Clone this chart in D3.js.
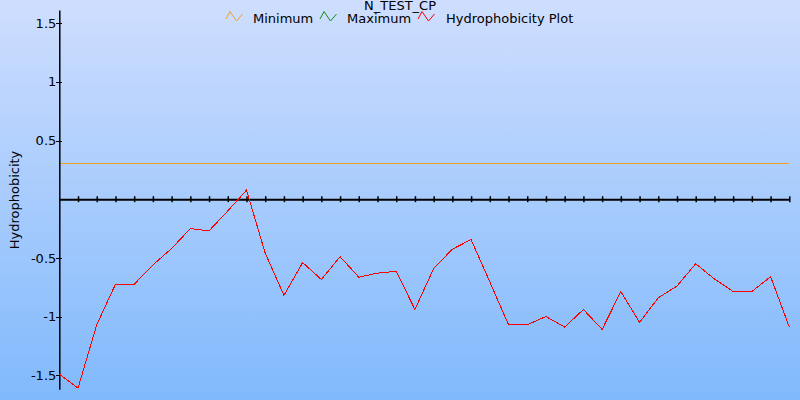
<!DOCTYPE html>
<html>
<head>
<meta charset="utf-8">
<script src="https://cdn.jsdelivr.net/npm/d3@7"></script>
<style>
html,body{margin:0;padding:0;}
svg{display:block;font-family:"DejaVu Sans",sans-serif;}
</style>
</head>
<body>
<script>
const title = "N_TEST_CP";
const yTitle = "Hydrophobicity";
const seriesNames = ["Minimum", "Maximum", "Hydrophobicity Plot"];
const seriesColors = ["#f0a020", "#109010", "#ff0000"];
const yTicks = [-1.5, -1, -0.5, 0.5, 1, 1.5];
const yTickLabels = ["-1.5", "-1", "-0.5", "0.5", "1", "1.5"];
const minimumValue = 0.307;
const hydro = [-1.49, -1.61, -1.07, -0.725, -0.725, -0.56, -0.42, -0.25, -0.27, -0.10,
  0.077, -0.46, -0.82, -0.54, -0.685, -0.49, -0.665, -0.63, -0.615, -0.94,
  -0.59, -0.426, -0.344, -0.705, -1.07, -1.07, -1.0, -1.09, -0.94, -1.11,
  -0.787, -1.05, -0.84, -0.74, -0.55, -0.68, -0.787, -0.787, -0.66, -1.09];

const W = 800, H = 400;
const svg = d3.select("body").append("svg").attr("width", W).attr("height", H);
const defs = svg.append("defs");
const grad = defs.append("linearGradient").attr("id","bg").attr("x1",0).attr("y1",0).attr("x2",0).attr("y2",1);
grad.append("stop").attr("offset","0%").attr("stop-color","#cfdefe");
grad.append("stop").attr("offset","100%").attr("stop-color","#80b9fc");
svg.append("rect").attr("width",W).attr("height",H).attr("fill","url(#bg)");

const x = d3.scaleLinear().domain([0, hydro.length - 1]).range([59.3, 789.3]);
const y = d3.scaleLinear().domain([-1.62, 1.612]).range([389.3, 10]);

// minimum line
svg.append("line")
  .attr("x1", x(0)).attr("x2", x(hydro.length - 1))
  .attr("y1", y(minimumValue)).attr("y2", y(minimumValue))
  .attr("stroke", seriesColors[0]).attr("stroke-width", 1)
  .attr("shape-rendering","crispEdges");

// y axis
const yAxis = d3.axisLeft(y).tickValues(yTicks).tickSize(0).tickPadding(3)
  .tickFormat((d, i) => yTickLabels[i]);
const gy = svg.append("g").attr("transform", `translate(${x(0)},0)`).call(yAxis);
gy.select(".domain").attr("stroke","#000").attr("stroke-width",1.5);
gy.selectAll("text").attr("font-size", 13).attr("fill","#000").attr("font-family","DejaVu Sans");
gy.selectAll(".tick").append("line").attr("x1",-3).attr("x2",3).attr("stroke","#000")
  .attr("shape-rendering","crispEdges");

// x axis at zero
const xAxis = d3.axisBottom(x).tickValues(d3.range(1, hydro.length)).tickSize(0).tickFormat("");
const gx = svg.append("g").attr("transform", `translate(0,${y(0)})`).call(xAxis);
gx.select(".domain").attr("stroke","#000").attr("stroke-width",2);
gx.selectAll(".tick").append("line").attr("y1",-3).attr("y2",3).attr("stroke","#000").attr("stroke-width",1.5);

// hydrophobicity line
svg.append("path").datum(hydro)
  .attr("fill","none").attr("stroke",seriesColors[2]).attr("stroke-width",1)
  .attr("shape-rendering","crispEdges")
  .attr("d", d3.line().x((d,i)=>x(i)).y(d=>y(d)));

// y title
svg.append("text").attr("transform","translate(19,200) rotate(-90)")
  .attr("text-anchor","middle").attr("font-size",13).text(yTitle);

// title
svg.append("text").attr("x",400).attr("y",10).attr("text-anchor","middle")
  .attr("font-size",13).text(title);

// legend
const legendX = [226, 320, 418];
const legendTextX = [253, 347, 446];
seriesNames.forEach((name, i) => {
  const g = svg.append("g").attr("transform", `translate(${legendX[i]},11.5)`);
  g.append("path").attr("d","M0,7.5L4,0L10.5,9.5L16.5,2.5").attr("fill","none")
    .attr("stroke", seriesColors[i]).attr("stroke-width",1);
  svg.append("text").attr("x", legendTextX[i]).attr("y", 23).attr("font-size",13).text(name);
});
</script>
</body>
</html>
